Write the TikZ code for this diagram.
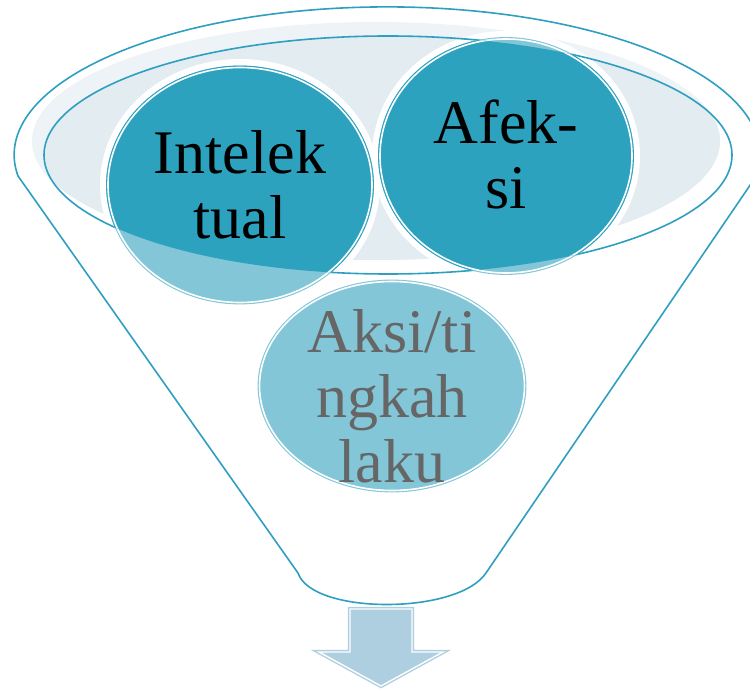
\documentclass[tikz,border=0pt]{standalone}
\usepackage{fontspec}
\setmainfont{Liberation Serif}
\usepackage{tikz}
\usetikzlibrary{shapes.geometric}

\definecolor{funnelline}{HTML}{2E9FC0}
\definecolor{tealdark}{HTML}{2CA2BF}
\definecolor{tealpale}{HTML}{82C6D7}
\definecolor{mouthshade}{HTML}{E3ECF1}
\definecolor{rimshade}{HTML}{EDF3F6}
\definecolor{arrowfill}{HTML}{ADCFDF}
\definecolor{aksigray}{HTML}{666666}

\begin{document}
\begin{tikzpicture}[x=1pt,y=1pt,
  bubble/.style={ellipse, inner sep=0pt, line width=1.1pt, double=white, double distance=1.6pt},
  bubbletext/.style={align=center, inner sep=0pt, font=\fontsize{62}{65}\selectfont},
  rim/.style={draw=funnelline, line width=1.6pt}]
  \useasboundingbox (0,0) rectangle (750,689);
  \coordinate (mouth) at (388,534);
  \coordinate (intelC) at (240,504);
  \coordinate (afekC) at (506,533);
  \coordinate (aksiC) at (392,303);

  % funnel body
  \draw[rim] (18,513) arc[start angle=188.2, end angle=-8.2, x radius=373, y radius=148]
    -- (486,116) .. controls (458,74) and (312,74) .. (298,116) -- cycle;

  % liquid surface
  \fill[rimshade] (376,548) ellipse [x radius=344, y radius=119];
  \begin{scope}
    \clip (mouth) ellipse [x radius=344, y radius=119];
    \fill[mouthshade] (376,548) ellipse [x radius=344, y radius=119];
  \end{scope}
  \fill[white] (intelC) ellipse [x radius=140, y radius=126];
  \fill[white] (afekC) ellipse [x radius=134, y radius=125];
  \draw[rim] (mouth) ellipse [x radius=344, y radius=119];

  % bubbles
  \node[bubble, draw=tealpale, fill=tealpale, minimum width=264pt, minimum height=235pt] (intel) at (intelC) {};
  \node[bubble, draw=tealpale, fill=tealpale, minimum width=252pt, minimum height=234pt] (afek) at (afekC) {};
  \begin{scope}
    \clip (mouth) ellipse [x radius=344, y radius=119];
    \node[bubble, draw=tealdark, fill=tealdark, minimum width=264pt, minimum height=235pt] (intelTop) at (intelC) {};
    \node[bubble, draw=tealdark, fill=tealdark, minimum width=252pt, minimum height=234pt] (afekTop) at (afekC) {};
  \end{scope}
  \node[bubble, draw=tealpale, fill=tealpale, minimum width=265pt, minimum height=209pt] (aksi) at (aksiC) {};

  \node[bubbletext] (intelLabel) at (intel) {Intelek\\tual};
  \node[bubbletext, yshift=2pt] (afekLabel) at (afek) {Afek-\\si};
  \node[bubbletext, text=aksigray, yshift=-10pt] (aksiLabel) at (aksi) {Aksi/ti\\ngkah\\laku};

  % outflow arrow
  \draw[draw=arrowfill, fill=arrowfill, line width=1.4pt, double=white, double distance=1.4pt]
    (350,80) -- (412,80) -- (412,37) -- (443,37) -- (381,3) -- (319,37) -- (350,37) -- cycle;
\end{tikzpicture}
\end{document}
